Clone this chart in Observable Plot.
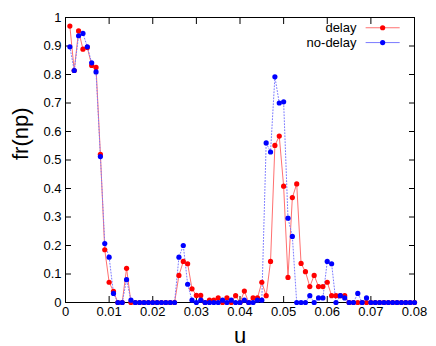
<!DOCTYPE html>
<html><head><meta charset="utf-8">
<script src="https://cdn.jsdelivr.net/npm/d3@7"></script>
<script src="https://cdn.jsdelivr.net/npm/@observablehq/plot@0.6"></script>
<style>
body{margin:0;background:#fff;}
svg{font-family:"Liberation Sans",Arial,sans-serif;}
</style></head>
<body><div id="chart"></div>
<script>
const uValues = d3.range(1, 81).map(i => i / 1000);
const delay = [0.970,0.814,0.953,0.889,0.895,0.832,0.825,0.520,0.185,0.071,
 0.039,0,0,0.120,0,0,0,0,0,0,
 0,0,0,0,0,0.095,0.144,0.136,0.048,0.025,
 0.025,0,0.008,0.008,0.016,0,0.016,0,0.024,0,
 0.040,0,0.016,0.016,0.071,0.024,0.144,0.551,0.584,0.408,
 0.088,0.368,0.416,0.137,0.108,0.056,0.095,0.056,0.056,0.071,
 0.024,0.024,0.024,0.024,0,0,0,0,0,0,
 0,0,0,0,0,0,0,0,0,0];
const noDelay = [0.897,0.814,0.936,0.944,0.897,0.841,0.809,0.512,0.207,0.159,
 0.032,0,0,0.080,0.008,0,0,0,0,0,
 0,0,0,0,0,0.159,0.200,0.064,0.008,0,
 0.008,0,0,0,0,0.008,0,0.008,0,0,
 0.008,0,0,0.008,0.008,0.560,0.528,0.792,0.700,0.704,
 0.296,0.232,0,0,0,0.024,0,0.016,0.016,0.144,
 0.136,0,0.024,0.016,0,0,0.032,0,0.016,0,
 0,0,0,0,0,0,0,0,0,0];
const seriesNames = ["delay", "no-delay"];
const xTicks = [0,0.01,0.02,0.03,0.04,0.05,0.06,0.07,0.08];
const yTicks = [0,0.1,0.2,0.3,0.4,0.5,0.6,0.7,0.8,0.9,1];

const dDelay = uValues.map((u, i) => ({u, v: delay[i]}));
const dNo = uValues.map((u, i) => ({u, v: noDelay[i]}));
const red = "#ff0000", blue = "#0000ff";
const redLine = "#ff7070", blueLine = "#7a7aff";
const legend = [{name: seriesNames[0], y: 0.964}, {name: seriesNames[1], y: 0.912}];

const fmt = d => d === 0 ? "0" : String(+d.toFixed(2));

const chart = Plot.plot({
  width: 436, height: 346,
  marginLeft: 65, marginRight: 22, marginTop: 17, marginBottom: 44,
  style: {fontFamily: "Liberation Sans, Arial, sans-serif", fontSize: "13px", background: "#fff"},
  x: {domain: [0, 0.08]},
  y: {domain: [0, 1]},
  marks: [
    Plot.frame({stroke: "#000", strokeWidth: 1}),
    Plot.axisX(xTicks, {anchor: "bottom", tickSize: -6, tickFormat: fmt, tickPadding: 10, fontSize: 13, label: null, color: "#000"}),
    Plot.axisX(xTicks, {anchor: "top", tickSize: -6, tickFormat: null, text: null, label: null}),
    Plot.axisY(yTicks, {anchor: "left", tickSize: -6, tickFormat: fmt, tickPadding: 10, fontSize: 13, label: null}),
    Plot.axisY(yTicks, {anchor: "right", tickSize: -6, text: null, label: null}),
    Plot.text(["u"], {frameAnchor: "bottom", dy: 40, fontSize: 22, fill: "#000"}),
    Plot.text(["fr(np)"], {frameAnchor: "left", dx: -45, rotate: -90, fontSize: 22, fill: "#000"}),
    Plot.line(dDelay, {x: "u", y: "v", stroke: redLine, strokeWidth: 1}),
    Plot.line(dNo, {x: "u", y: "v", stroke: blueLine, strokeWidth: 1, strokeDasharray: "1,2"}),
    Plot.dot(dDelay, {x: "u", y: "v", r: 2.6, fill: red, stroke: "none"}),
    Plot.dot(dNo, {x: "u", y: "v", r: 2.6, fill: blue, stroke: "none"}),
    // legend
    Plot.text(legend, {x: () => 0.0667, y: "y", text: "name", textAnchor: "end", fontSize: 13, fill: "#000"}),
    Plot.link(legend, {x1: () => 0.0688, x2: () => 0.0766, y1: "y", y2: "y", stroke: (d, i) => i === 0 ? redLine : blueLine, strokeDasharray: (d, i) => i === 0 ? null : "1,2"}),
    Plot.dot(legend, {x: () => 0.0727, y: "y", r: 2.6, fill: (d, i) => i === 0 ? red : blue})
  ]
});
document.getElementById("chart").appendChild(chart);
</script>
</body></html>
